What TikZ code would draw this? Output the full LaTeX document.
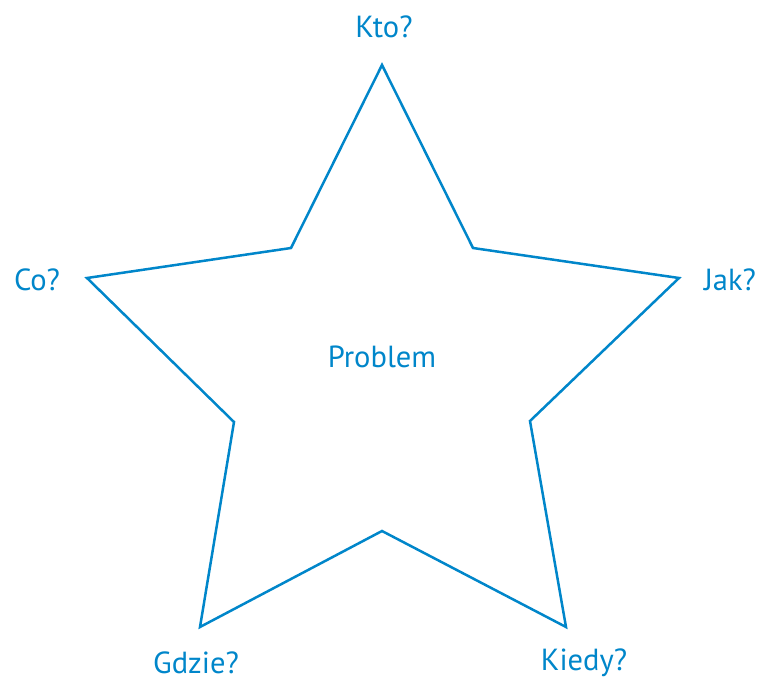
\documentclass[tikz,border=0pt]{standalone}
\usepackage{fontspec}
\setmainfont{PT Sans}
\definecolor{starblue}{RGB}{0,134,202}
\begin{document}
\begin{tikzpicture}[x=1pt,y=-1pt,
  lbl/.style={text=starblue,font=\fontsize{30.5}{33}\selectfont,inner sep=0pt}]
\useasboundingbox (0,0) rectangle (763,682);
\coordinate (p1) at (382,65);
\coordinate (q1) at (473,248);
\coordinate (p2) at (679,278);
\coordinate (q2) at (530,421);
\coordinate (p3) at (566,627);
\coordinate (q3) at (382,531);
\coordinate (p4) at (200,627);
\coordinate (q4) at (234,422);
\coordinate (p5) at (87,278);
\coordinate (q5) at (291,248);
\draw[starblue,line width=2.5pt,line join=miter,fill=white]
  (p1) -- (q1) -- (p2) -- (q2) -- (p3) -- (q3) -- (p4) -- (q4) -- (p5) -- (q5) -- cycle;
\node[lbl] (kto) at (384,27) {Kto?};
\node[lbl] (jak) at (730,280) {Jak?};
\node[lbl] (co) at (37,280) {Co?};
\node[lbl] (prob) at (382,357) {Problem};
\node[lbl] (gdzie) at (196,663) {Gdzie?};
\node[lbl] (kiedy) at (584,663) {Kiedy?};
\end{tikzpicture}
\end{document}
